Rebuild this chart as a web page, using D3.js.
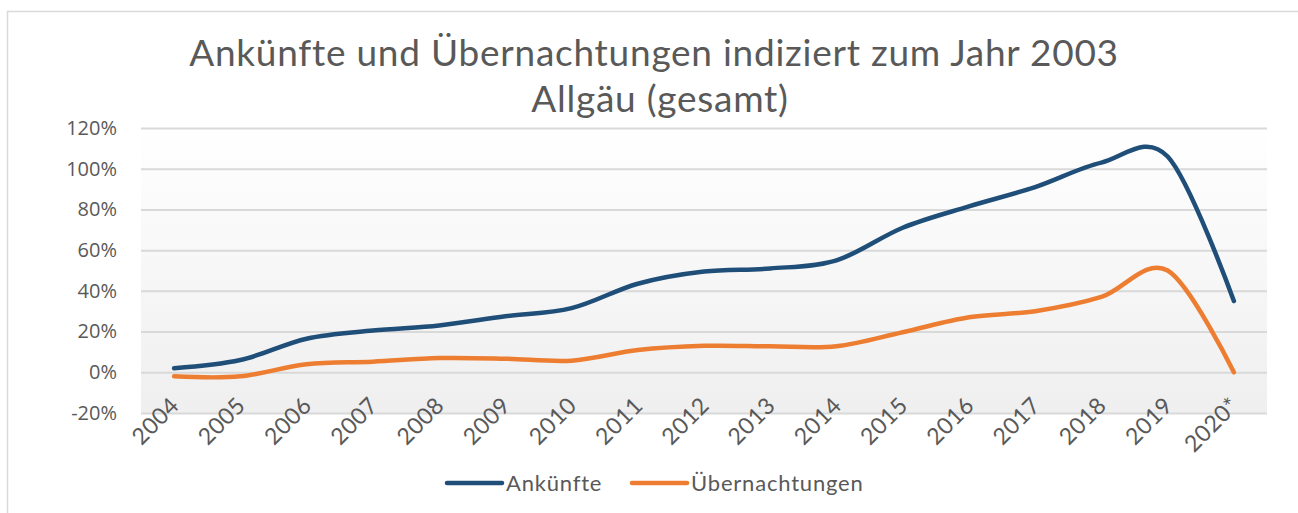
<!DOCTYPE html>
<html>
<head>
<meta charset="utf-8">
<script src="https://cdn.jsdelivr.net/npm/d3@7"></script>
<style>
  body { margin: 0; background: #fff; }
  svg { display: block; }
</style>
</head>
<body>
<div id="chart"></div>
<script>
// Werte (Index 2003 = 0%)
const years = ["2004","2005","2006","2007","2008","2009","2010","2011","2012",
               "2013","2014","2015","2016","2017","2018","2019","2020*"];
const ankuenfte = [2, 6, 16.5, 20.5, 23, 27.5, 31.5, 43.5, 49.5, 51, 55, 71, 81.5, 91, 103, 106, 35];
const uebernachtungen = [-2, -2, 4, 5.2, 7, 6.7, 5.7, 10.9, 13, 12.8, 12.8, 19.7, 27, 30, 37, 50, 0];
const yTicks = [-20, 0, 20, 40, 60, 80, 100, 120];
const seriesNames = ["Ankünfte", "Übernachtungen"];
const seriesColors = ["#1f4e79", "#ed7d31"];

const W = 1298, H = 513;
const plot = { left: 141, right: 1267, top: 128, bottom: 413 };
const titleFont = "Lato, 'Open Sans', sans-serif";
const textColor = "#595959";

const svg = d3.select("#chart").append("svg")
    .attr("width", W)
    .attr("height", H);

// Rahmen des Diagrammbereichs
svg.append("path")
    .attr("d", `M7.5,${H} V11.5 H${W}`)
    .attr("fill", "none")
    .attr("stroke", "#d9d9d9")
    .attr("stroke-width", 1.5);

const defs = svg.append("defs");
const grad = defs.append("linearGradient")
    .attr("id", "bg").attr("x1", 0).attr("y1", 0).attr("x2", 0).attr("y2", 1);
grad.append("stop").attr("offset", "0%").attr("stop-color", "#ffffff");
grad.append("stop").attr("offset", "100%").attr("stop-color", "#efefef");

const x = d3.scalePoint()
    .domain(years)
    .range([plot.left, plot.right])
    .padding(0.5);

const y = d3.scaleLinear()
    .domain([-20, 120])
    .range([plot.bottom, plot.top]);

svg.append("rect")
    .attr("x", plot.left)
    .attr("y", plot.top)
    .attr("width", plot.right - plot.left)
    .attr("height", plot.bottom - plot.top)
    .attr("fill", "url(#bg)");

// Gitterlinien + y-Achse
const yAxis = d3.axisLeft(y)
    .tickValues(yTicks)
    .tickSize(-(plot.right - plot.left))
    .tickPadding(24)
    .tickFormat(d => d + "%");

const yg = svg.append("g")
    .attr("transform", `translate(${plot.left},0)`)
    .call(yAxis);
yg.select(".domain").remove();
yg.selectAll(".tick line")
    .attr("stroke", "#d9d9d9")
    .attr("stroke-width", 2);
yg.selectAll(".tick text")
    .attr("fill", textColor)
    .style("font-family", "'Open Sans', sans-serif")
    .style("font-size", "20px");

// x-Achse, Beschriftung um 45° gedreht
const xAxis = d3.axisBottom(x).tickSize(0).tickPadding(0);
const xg = svg.append("g")
    .attr("transform", `translate(0,${plot.bottom})`)
    .call(xAxis);
xg.select(".domain").remove();
xg.selectAll(".tick text")
    .attr("fill", textColor)
    .style("font-family", titleFont)
    .style("font-size", "23px")
    .style("letter-spacing", "0.5px")
    .attr("text-anchor", "end")
    .attr("dy", 0)
    .attr("y", 0)
    .attr("transform", "translate(6,-6) rotate(-45)");

// Linien
const line = d3.line()
    .x((d, i) => x(years[i]))
    .y(d => y(d))
    .curve(d3.curveCardinal.tension(0));

[ankuenfte, uebernachtungen].forEach((vals, k) => {
  svg.append("path")
      .datum(vals)
      .attr("d", line)
      .attr("fill", "none")
      .attr("stroke", seriesColors[k])
      .attr("stroke-width", 4.5)
      .attr("stroke-linecap", "round")
      .attr("stroke-linejoin", "round");
});

// Titel
const title = svg.append("text")
    .attr("text-anchor", "middle")
    .attr("fill", textColor)
    .style("font-family", titleFont)
    .style("font-size", "37px")
    .style("letter-spacing", "0.75px");
title.append("tspan").attr("x", 654).attr("y", 66)
    .text("Ankünfte und Übernachtungen indiziert zum Jahr 2003");
title.append("tspan").attr("x", 660).attr("y", 112)
    .text("Allgäu (gesamt)");

// Legende
const legendX = [447, 632];
const legend = svg.selectAll(".legend")
    .data(seriesNames)
    .enter().append("g")
    .attr("class", "legend")
    .attr("transform", (d, i) => `translate(${legendX[i]},483)`);
legend.append("line")
    .attr("x1", 0).attr("x2", 55)
    .attr("stroke", (d, i) => seriesColors[i])
    .attr("stroke-width", 4.5)
    .attr("stroke-linecap", "round");
legend.append("text")
    .attr("x", 59)
    .attr("dy", "0.35em")
    .attr("fill", textColor)
    .style("font-family", titleFont)
    .style("font-size", "22px")
    .style("letter-spacing", "0.8px")
    .text(d => d);
</script>
</body>
</html>
